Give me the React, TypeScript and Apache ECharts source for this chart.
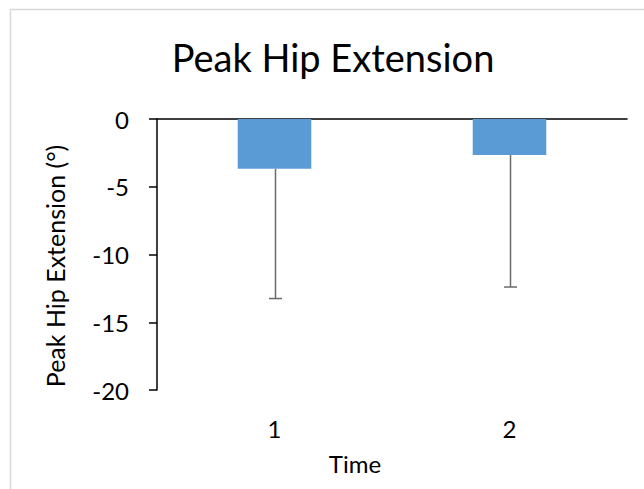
import React, { useEffect, useRef } from "react";
import * as echarts from "echarts";

const categories = ["1", "2"];
const peakValues = [-3.68, -2.65];
const errorLows = [-13.25, -12.4];
const yTicks = [0, -5, -10, -15, -20];

const FONT = "Lato, 'Open Sans', sans-serif";

export default function App() {
  const ref = useRef<HTMLDivElement>(null);
  useEffect(() => {
    if (!ref.current) return;
    const chart = echarts.init(ref.current, null, { renderer: "svg" });
    const option: any = {
      animation: false,
      backgroundColor: "#ffffff",
      textStyle: { fontFamily: FONT },
      graphic: [
        {
          type: "rect",
          shape: { x: 10.5, y: 9.5, width: 700, height: 600 },
          style: { fill: "none", stroke: "#d9d9d9", lineWidth: 1.5 },
          silent: true,
          z: -10,
        },
        {
          type: "text",
          x: 333,
          y: 57,
          style: {
            text: "Peak Hip Extension",
            font: `38px ${FONT}`,
            fill: "#000000",
            textAlign: "center",
            textVerticalAlign: "middle",
          },
        },
        {
          type: "text",
          x: 55,
          y: 266,
          rotation: Math.PI / 2,
          style: {
            text: "Peak Hip Extension (°)",
            font: `25px ${FONT}`,
            fill: "#000000",
            textAlign: "center",
            textVerticalAlign: "middle",
          },
        },
        {
          type: "text",
          x: 355,
          y: 463,
          style: {
            text: "Time",
            font: `24px ${FONT}`,
            fill: "#000000",
            textAlign: "center",
            textVerticalAlign: "middle",
          },
        },
      ],
      grid: { left: 157, top: 119, right: 17, bottom: 99 },
      xAxis: [
        {
          type: "category",
          data: categories,
          position: "bottom",
          axisLine: { show: false, onZero: false },
          axisTick: { show: false },
          axisLabel: { color: "#000000", fontSize: 24, fontFamily: FONT, margin: 26 },
        },
        {
          type: "category",
          data: categories,
          position: "top",
          axisLine: { show: true, onZero: false, lineStyle: { color: "#000000", width: 1.5 } },
          axisTick: { show: false },
          axisLabel: { show: false },
        },
      ],
      yAxis: {
        type: "value",
        min: -20,
        max: 0,
        interval: 5,
        axisLine: { show: true, onZero: false, lineStyle: { color: "#000000", width: 1.5 } },
        axisTick: { show: true, length: 8, lineStyle: { color: "#000000", width: 1.5 } },
        splitLine: { show: false },
        axisLabel: {
          color: "#000000",
          fontSize: 24,
          fontFamily: FONT,
          margin: 28,
          formatter: (v: number) => (yTicks.includes(v) ? String(v) : ""),
        },
      },
      series: [
        {
          type: "bar",
          data: peakValues,
          barWidth: "31.3%",
          itemStyle: { color: "#5b9bd5" },
          z: 2,
        },
        {
          type: "custom",
          data: categories.map((c, i) => [i, peakValues[i], errorLows[i]]),
          z: 3,
          renderItem: (params: any, api: any) => {
            const idx = api.value(0);
            const top = api.coord([idx, api.value(1)]);
            const bottom = api.coord([idx, api.value(2)]);
            const x = Math.round(top[0]) + 0.5;
            const capHalf = 6.5;
            const style = { stroke: "#6b6b6b", lineWidth: 1.5 };
            return {
              type: "group",
              children: [
                { type: "line", shape: { x1: x, y1: top[1], x2: x, y2: bottom[1] }, style },
                {
                  type: "line",
                  shape: { x1: x - capHalf, y1: bottom[1], x2: x + capHalf, y2: bottom[1] },
                  style,
                },
              ],
            };
          },
        },
      ],
    };
    chart.setOption(option);
    return () => chart.dispose();
  }, []);
  return <div ref={ref} style={{ width: 644, height: 489, position: "absolute", left: 0, top: 0 }} />;
}
